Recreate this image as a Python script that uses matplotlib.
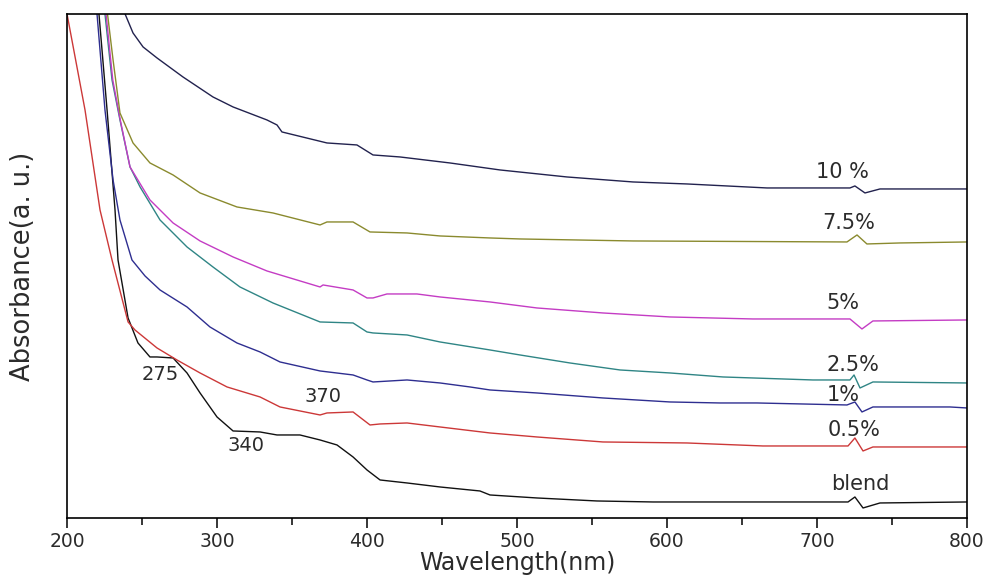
"""
UV-vis absorbance spectra of the blend and the doped films (0.5 - 10 %).
Curves are stacked (arbitrary units), labelled at the right-hand side.
"""

import matplotlib
matplotlib.use("Agg")
import matplotlib.pyplot as plt
from matplotlib.ticker import MultipleLocator

# ---- data (wavelength nm, absorbance a.u.) ----
blend_wl = [219, 226.7, 232, 234, 240.7, 247.3, 255.3, 260, 270.7, 280, 288.7, 300, 310.7,
            328.7, 340, 355.3, 368.7, 380, 390.7, 400, 408.7, 426.7, 448.7, 475.3, 482,
            513.3, 553.3, 590.7, 635.3, 720.7, 725.3, 730.7, 742, 800]
blend_abs = [545, 408, 308, 258, 200, 175, 161, 161, 160, 145, 125, 101, 87,
             86, 83, 83, 78, 73, 61, 48, 38, 35, 31, 27, 23,
             20, 17, 16, 16, 16, 21, 10, 15, 16]

p05_wl = [199, 212, 222, 230, 240.7, 245.3, 260, 273.3, 288.7, 306.7, 328.7, 342, 368.7,
          373.3, 390.7, 402, 408.7, 426.7, 448.7, 482, 513.3, 557.3, 613.3, 664,
          720.7, 725.3, 730.7, 737.3, 800]
p05_abs = [512, 408, 308, 258, 196, 188, 170, 158, 145, 131, 121, 111, 103,
           105, 106, 93, 94, 95, 91, 85, 81, 76, 75, 72,
           72, 80, 67, 71, 71]

p1_wl = [217, 220, 225.3, 230.7, 235.3, 243.3, 252, 262, 280, 295.3, 313.3, 328.7, 342,
         368.7, 390.7, 400, 404, 426.7, 448.7, 468.7, 482, 513.3, 557.3, 602, 635.3,
         660, 720, 725.3, 730, 737.3, 788.7, 800]
p1_abs = [540, 504, 408, 338, 298, 258, 242, 228, 211, 191, 175, 166, 156,
          147, 143, 138, 136, 138, 135, 131, 128, 125, 120, 116, 115,
          115, 113, 116, 106, 111, 111, 110]

p25_wl = [222, 225.3, 230, 235.3, 242, 248.7, 262, 280, 297.3, 315.3, 337.3, 368.7, 390.7,
          400, 404, 426.7, 448.7, 482, 502, 535.3, 568.7, 602, 637.3, 697.3, 722,
          724.7, 728.7, 737.3, 800]
p25_abs = [545, 504, 438, 398, 351, 331, 298, 271, 251, 231, 215, 196, 195,
           186, 185, 183, 176, 168, 163, 155, 148, 145, 141, 138, 138,
           143, 130, 136, 135]

p5_wl = [223, 226, 230.5, 235.5, 242, 255.3, 270.7, 288.7, 310.7, 333.3, 368.7, 370.7, 390.7,
         400, 404, 413.3, 433.3, 448.7, 482, 513.3, 557.3, 602, 657.3, 722, 730,
         737.3, 800]
p5_abs = [545, 504, 438, 398, 351, 318, 295, 277, 261, 247, 231, 233, 228,
          220, 220, 224, 224, 221, 216, 210, 205, 201, 199, 199, 189,
          197, 198]

p75_wl = [224, 227, 230.7, 235.3, 244, 255.3, 270.7, 288.7, 313.3, 337.3, 368.7, 373.3, 390.7,
          402, 426.7, 448.7, 482, 502, 577.3, 720, 726.7, 733.3, 755.3, 800]
p75_abs = [545, 504, 458, 405, 375, 355, 343, 325, 311, 305, 293, 296, 296,
           286, 285, 282, 280, 279, 277, 276, 283, 274, 275, 276]

p10_wl = [236, 238.7, 244, 250.7, 260, 277.3, 297.3, 310.7, 333.3, 340, 343.3, 373.3, 393.3,
          404, 422, 455.3, 488.7, 533.3, 577.3, 613.3, 666.7, 722, 725.3, 732, 742, 800]
p10_abs = [545, 504, 485, 471, 460, 441, 421, 411, 398, 393, 386, 375, 373,
           363, 361, 355, 348, 341, 336, 334, 330, 330, 332, 325, 329, 329]

# curve labels and their anchor (wl, abs)
series_labels = ["blend", "0.5%", "1%", "2.5%", "5%", "7.5%", "10 %"]
label_wl = [728.7, 724.7, 717.3, 724, 717.3, 721.3, 717.3]
label_abs = [34, 88, 123, 153, 215, 295, 346]

# band positions marked on the blend / 0.5% spectra
peak_text = ["275", "340", "370"]
peak_wl = [262, 319.3, 370.7]
peak_abs = [143, 72, 121]

colors = ["#111111", "#cc3838", "#2e2e90", "#2f8585", "#c43cc4", "#8a8a2e", "#22224e"]
TEXT = "#2b2b2b"


def main():
    fig = plt.figure(figsize=(9.87, 5.79), dpi=100)
    ax = fig.add_axes([0.0679, 0.1054, 0.9118, 0.8705])

    series = [(blend_wl, blend_abs), (p05_wl, p05_abs), (p1_wl, p1_abs), (p25_wl, p25_abs),
              (p5_wl, p5_abs), (p75_wl, p75_abs), (p10_wl, p10_abs)]
    for (wl, a), c in zip(series, colors):
        ax.plot(wl, a, color=c, lw=1.0)

    for s, x, y in zip(series_labels, label_wl, label_abs):
        ax.text(x, y, s, ha="center", va="center", fontsize=15, color=TEXT)
    for s, x, y in zip(peak_text, peak_wl, peak_abs):
        ax.text(x, y, s, ha="center", va="center", fontsize=14, color=TEXT)

    ax.set_xlim(200, 800)
    ax.set_ylim(0, 504)
    ax.xaxis.set_major_locator(MultipleLocator(100))
    ax.xaxis.set_minor_locator(MultipleLocator(50))
    ax.tick_params(axis="x", which="major", direction="out", length=7, width=1.1,
                   labelsize=13.5, labelcolor=TEXT, pad=3)
    ax.tick_params(axis="x", which="minor", direction="out", length=5, width=1.1)
    ax.set_yticks([])
    for sp in ax.spines.values():
        sp.set_linewidth(1.2)

    # x label sits right under the tick labels, almost touching the bottom edge
    ax.set_xlabel("Wavelength(nm)", fontsize=17, color=TEXT, labelpad=0)
    ax.set_ylabel("Absorbance(a. u.)", fontsize=18.5, color=TEXT)
    ax.yaxis.set_label_coords(-0.035, 0.5)

    fig.savefig("out.png", dpi=100)
    plt.close(fig)


if __name__ == "__main__":
    main()
